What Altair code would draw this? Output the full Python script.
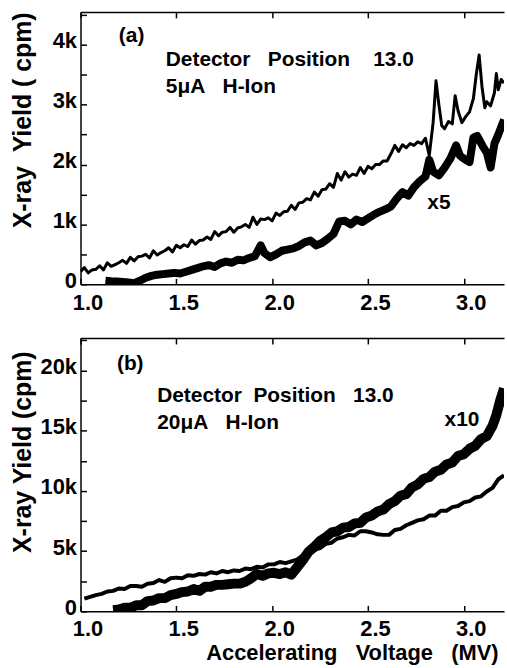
import altair as alt
import pandas as pd

FONT = "Liberation Sans"
SP = "\u00a0"

# ---------------- data: panel (a) ----------------
a_thin_x = [1.00, 1.02, 1.04, 1.06, 1.08, 1.10, 1.12, 1.14, 1.16, 1.18, 1.20, 1.22, 1.24, 1.26, 1.28,
            1.30, 1.32, 1.34, 1.36, 1.38, 1.40, 1.42, 1.44, 1.46, 1.48, 1.50, 1.52, 1.54, 1.56, 1.58,
            1.60, 1.62, 1.64, 1.66, 1.68, 1.70, 1.72, 1.74, 1.76, 1.78, 1.80, 1.82, 1.84, 1.86, 1.88,
            1.90, 1.92, 1.94, 1.96, 1.98, 2.00, 2.02, 2.04, 2.06, 2.08, 2.10, 2.12, 2.14, 2.16, 2.18,
            2.20, 2.22, 2.24, 2.26, 2.28, 2.30, 2.32, 2.34, 2.36, 2.38, 2.40, 2.42, 2.44, 2.46, 2.48,
            2.50, 2.52, 2.54, 2.56, 2.58, 2.60, 2.62, 2.64, 2.66, 2.68, 2.70, 2.72, 2.74, 2.76, 2.78,
            2.80, 2.82, 2.84, 2.855, 2.87, 2.885, 2.90, 2.92, 2.94, 2.955, 2.97, 2.99, 3.01, 3.03,
            3.05, 3.065, 3.08, 3.095, 3.11, 3.12, 3.14, 3.16, 3.17, 3.18, 3.195, 3.21]
a_thin_y = [210, 280, 190, 240, 250, 310, 240, 360, 300, 330, 360, 400, 350, 450, 390,
            460, 470, 500, 440, 560, 490, 530, 560, 610, 540, 650, 610, 660, 630, 740,
            670, 730, 740, 790, 750, 880, 810, 870, 880, 950, 870, 940, 960, 1000, 950,
            1120, 1000, 1090, 1080, 1110, 1060, 1190, 1150, 1210, 1220, 1320, 1250, 1360, 1370, 1430,
            1410, 1540, 1470, 1580, 1590, 1680, 1620, 1850, 1740, 1880, 1790, 1840, 1820, 1950, 1850,
            1970, 1930, 2000, 2000, 2060, 2060, 2180, 2320, 2220, 2330, 2280, 2350, 2320, 2380, 2350,
            2440, 2150, 2700, 3400, 3000, 2650, 2600, 2720, 2680, 3150, 2900, 2700, 2800, 2880,
            3100, 3500, 3830, 3300, 2950, 3050, 2980, 3200, 3520, 3250, 3420, 3360]

a_thick_x = [1.13, 1.16, 1.19, 1.22, 1.25, 1.28, 1.31, 1.34, 1.37, 1.40, 1.43, 1.46, 1.49, 1.52,
             1.55, 1.58, 1.61, 1.64, 1.67, 1.70, 1.73, 1.76, 1.79, 1.82, 1.85, 1.88, 1.91, 1.94,
             1.96, 1.99, 2.02, 2.05, 2.08, 2.11, 2.14, 2.17, 2.20, 2.23, 2.26, 2.29, 2.32, 2.35,
             2.38, 2.41, 2.44, 2.47, 2.50, 2.53, 2.56, 2.59, 2.62, 2.65, 2.68, 2.71, 2.74, 2.77,
             2.80, 2.82, 2.84, 2.87, 2.90, 2.93, 2.96, 2.98, 3.00, 3.03, 3.05, 3.07, 3.10, 3.12,
             3.14, 3.16, 3.18, 3.21]
a_thick_y = [60, 50, 45, 40, 30, 20, 60, 110, 140, 160, 170, 180, 190, 180,
             210, 240, 270, 300, 320, 290, 350, 380, 360, 410, 400, 440, 470, 650,
             520, 450, 500, 560, 580, 600, 640, 700, 730, 650, 690, 760, 840, 1050,
             1060, 1000, 1080, 1040, 1100, 1160, 1210, 1250, 1300, 1430, 1540, 1480, 1620, 1720,
             1800, 2080, 1880, 1820, 1950, 2100, 2320, 2150, 2100, 2040, 2450, 2480, 2300, 2200,
             1950, 2350, 2500, 2750]

# ---------------- data: panel (b) ----------------
b_thin_x = [1.02, 1.05, 1.08, 1.11, 1.14, 1.17, 1.20, 1.23, 1.26, 1.29, 1.32, 1.35, 1.38, 1.41,
            1.44, 1.47, 1.50, 1.53, 1.56, 1.59, 1.62, 1.65, 1.68, 1.71, 1.74, 1.77, 1.80, 1.83,
            1.86, 1.89, 1.92, 1.95, 1.98, 2.01, 2.04, 2.07, 2.10, 2.13, 2.16, 2.19, 2.22, 2.25,
            2.28, 2.31, 2.34, 2.37, 2.40, 2.43, 2.46, 2.49, 2.52, 2.55, 2.58, 2.61, 2.64, 2.67,
            2.70, 2.73, 2.76, 2.79, 2.82, 2.85, 2.88, 2.91, 2.94, 2.97, 3.00, 3.03, 3.06, 3.09,
            3.12, 3.15, 3.18, 3.21]
b_thin_y = [1050, 1200, 1350, 1450, 1650, 1700, 1900, 1850, 2100, 2100, 2050, 2300, 2350, 2600,
            2450, 2750, 2800, 2750, 3000, 2950, 3100, 3050, 3250, 3150, 3350, 3250, 3400, 3350,
            3550, 3500, 3700, 3650, 3900, 3900, 4100, 4000, 4150, 4300, 4650, 4750, 5100, 5250,
            5600, 5700, 6050, 6150, 6350, 6300, 6650, 6650, 6550, 6400, 6350, 6350, 6750, 6850,
            7150, 7350, 7550, 7650, 7950, 7950, 8350, 8350, 8650, 8750, 9050, 9150, 9450, 9550,
            9950, 10250, 10950, 11300]

b_thick_x = [1.17, 1.20, 1.23, 1.26, 1.29, 1.32, 1.35, 1.38, 1.41, 1.44, 1.47, 1.50, 1.53, 1.56,
             1.59, 1.62, 1.65, 1.68, 1.71, 1.74, 1.77, 1.80, 1.83, 1.86, 1.89, 1.92, 1.95, 1.98,
             2.01, 2.04, 2.07, 2.10, 2.13, 2.16, 2.19, 2.22, 2.25, 2.28, 2.31, 2.34, 2.37, 2.40,
             2.43, 2.46, 2.49, 2.52, 2.55, 2.58, 2.61, 2.64, 2.67, 2.70, 2.73, 2.76, 2.79, 2.82,
             2.85, 2.88, 2.91, 2.94, 2.97, 3.00, 3.03, 3.06, 3.09, 3.12, 3.15, 3.17, 3.19, 3.21]
b_thick_y = [100, 150, 300, 300, 500, 500, 850, 900, 1100, 1100, 1350, 1450, 1600, 1650,
             1850, 1700, 2050, 2050, 2200, 2200, 2250, 2300, 2300, 2450, 2750, 3100, 2950, 3150,
             3200, 3100, 3250, 3050, 3650, 4250, 4950, 5350, 5850, 6150, 6550, 6650, 6950, 7000,
             7300, 7350, 7800, 7950, 8300, 8450, 8900, 9150, 9600, 9750, 10300, 10550, 11000, 11150,
             11600, 11750, 12200, 12350, 12900, 13050, 13500, 13750, 14300, 14550, 15400, 16300, 17500, 18500]

# ---------------- annotations ----------------
a_note_text = ["(a)", "Detector" + SP * 3 + "Position" + SP * 4 + "13.0",
               "5\u03bcA" + SP * 3 + "H-Ion", "x5"]
a_note_x = [1.20, 1.445, 1.445, 2.81]
a_note_y = [4150, 3750, 3300, 1360]

b_note_text = ["(b)", "Detector" + SP * 2 + "Position" + SP * 3 + "13.0",
               "20\u03bcA" + SP * 3 + "H-Ion", "x10"]
b_note_x = [1.19, 1.40, 1.40, 2.90]
b_note_y = [20570, 17850, 15600, 15860]

x_tick_values = [1.0, 1.5, 2.0, 2.5, 3.0]
a_ylabel_values = [0, 1000, 2000, 3000, 4000]
a_ytick_values = [0, 500, 1000, 1500, 2000, 2500, 3000, 3500, 4000, 4500]
b_ylabel_values = [0, 5000, 10000, 15000, 20000]
b_ytick_values = [0, 2500, 5000, 7500, 10000, 12500, 15000, 17500, 20000, 22500]

XDOM = [1.0, 3.21]
W = 426


def panel(thin_x, thin_y, thick_x, thick_y, ydom, ylabels, yticks, ytitle, ytitle_y,
          notes, height, thin_w, thick_w, xlabel_pad, xtitle=None):
    thin = pd.DataFrame({"v": thin_x, "c": thin_y})
    thick = pd.DataFrame({"v": thick_x, "c": thick_y})
    nt = pd.DataFrame({"v": notes[1], "c": notes[2], "t": notes[0]})
    xs = alt.Scale(domain=XDOM, nice=False, zero=False)
    ys = alt.Scale(domain=ydom, nice=False, zero=False)

    xkw = dict(orient="bottom", values=x_tick_values, format=".1f", ticks=False, grid=False,
               domain=True, domainColor="black", domainWidth=1.5,
               labelFont=FONT, labelFontSize=22, labelFontWeight="bold", labelColor="black",
               labelPadding=xlabel_pad, labelOffset=7, labelFlush=False)
    if xtitle:
        xkw.update(title=xtitle, titleFont=FONT, titleFontSize=22, titleFontWeight="bold",
                   titleColor="black", titleAnchor="end", titleX=420, titleAlign="right",
                   titlePadding=3)
    else:
        xkw.update(title="")
    ykw = dict(orient="left", values=ylabels, ticks=False, grid=False, domain=True,
               domainColor="black", domainWidth=1.5,
               labelExpr="datum.value == 0 ? '0' : (datum.value/1000) + 'k'",
               labelFont=FONT, labelFontSize=22, labelFontWeight="bold", labelColor="black",
               labelPadding=4, labelOffset=-4, labelFlush=False,
               title=ytitle, titleFont=FONT, titleFontSize=25, titleFontWeight="bold",
               titleColor="black", titleAngle=-90, titleAlign="right", titleBaseline="middle",
               titleX=-58, titleY=ytitle_y)

    main = alt.Chart(thin).mark_line(color="black", strokeWidth=thin_w, clip=True,
                                     strokeJoin="round").encode(
        x=alt.X("v:Q", scale=xs, axis=alt.Axis(**xkw)),
        y=alt.Y("c:Q", scale=ys, axis=alt.Axis(**ykw)),
    )
    heavy = alt.Chart(thick).mark_line(color="black", strokeWidth=thick_w, clip=True,
                                       strokeJoin="round").encode(
        x=alt.X("v:Q", scale=xs, axis=None),
        y=alt.Y("c:Q", scale=ys, axis=None),
    )
    tickcommon = dict(labels=False, domain=False, grid=False, ticks=True, tickSize=6,
                      tickColor="black", tickWidth=1.5, title="")
    inner_ticks = alt.Chart(thin).mark_point(opacity=0).encode(
        x=alt.X("v:Q", scale=xs, axis=alt.Axis(orient="bottom", offset=-6, values=x_tick_values, **tickcommon)),
        y=alt.Y("c:Q", scale=ys, axis=alt.Axis(orient="left", offset=-6, values=yticks, **tickcommon)),
    )
    top_ticks = alt.Chart(thin).mark_point(opacity=0).encode(
        x=alt.X("v:Q", scale=xs, axis=alt.Axis(orient="top", offset=-6, values=x_tick_values, **tickcommon)),
        y=alt.Y("c:Q", scale=ys, axis=None),
    )
    top_line = alt.Chart(thin).mark_point(opacity=0).encode(
        x=alt.X("v:Q", scale=xs, axis=alt.Axis(orient="top", labels=False, ticks=False, grid=False,
                                               domain=True, domainColor="black", domainWidth=1.5,
                                               title="")),
        y=alt.Y("c:Q", scale=ys, axis=None),
    )
    text = alt.Chart(nt).mark_text(align="left", baseline="middle", font=FONT, fontSize=21,
                                   fontWeight="bold", color="black").encode(
        x=alt.X("v:Q", scale=xs, axis=None),
        y=alt.Y("c:Q", scale=ys, axis=None),
        text="t:N",
    )
    return alt.layer(main, heavy, inner_ticks, top_ticks, top_line, text).resolve_axis(
        x="independent", y="independent").properties(width=W, height=height)


pa = panel(a_thin_x, a_thin_y, a_thick_x, a_thick_y, [0, 4550], a_ylabel_values, a_ytick_values,
           "X-ray" + SP * 2 + "Yield" + SP + "(" + SP + "cpm)", 0,
           (a_note_text, a_note_x, a_note_y), 274, 3, 8, 8)
pb = panel(b_thin_x, b_thin_y, b_thick_x, b_thick_y, [0, 22700], b_ylabel_values, b_ytick_values,
           "X-ray Yield (cpm)", 13, (b_note_text, b_note_x, b_note_y), 275, 4, 10, 7,
           xtitle="Accelerating" + SP * 3 + "Voltage" + SP * 3 + "(MV)")

chart = alt.vconcat(pa, pb, spacing=54, bounds="flush").properties(
    padding={"left": 10, "top": 9, "right": 0, "bottom": 0},
    background="white",
).configure_view(stroke=None)

chart.save("out.html", embed_options={"renderer": "svg", "actions": False})
